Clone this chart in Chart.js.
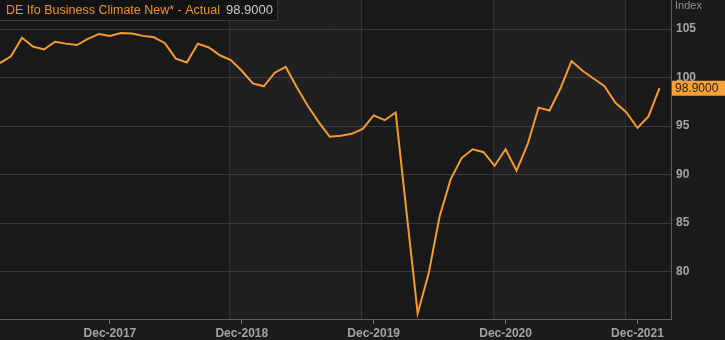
<!DOCTYPE html>
<html lang="en">
<head>
  <meta charset="UTF-8" />
  <title>DE Ifo Business Climate</title>
  <style>
    * { margin: 0; padding: 0; box-sizing: border-box; }
    body { background: #1b1b1b; }
    .wrap { position: relative; width: 725px; height: 340px; }
  </style>
</head>
<body>
  <div class="wrap"><canvas id="chartCanvas"></canvas></div>

  <script src="https://cdn.jsdelivr.net/npm/chart.js"></script>
  <script>
    // monthly readings, Feb-2017 .. Feb-2022
    const months = [
      'Feb-2017','Mar-2017','Apr-2017','May-2017','Jun-2017','Jul-2017','Aug-2017','Sep-2017','Oct-2017','Nov-2017','Dec-2017',
      'Jan-2018','Feb-2018','Mar-2018','Apr-2018','May-2018','Jun-2018','Jul-2018','Aug-2018','Sep-2018','Oct-2018','Nov-2018','Dec-2018',
      'Jan-2019','Feb-2019','Mar-2019','Apr-2019','May-2019','Jun-2019','Jul-2019','Aug-2019','Sep-2019','Oct-2019','Nov-2019','Dec-2019',
      'Jan-2020','Feb-2020','Mar-2020','Apr-2020','May-2020','Jun-2020','Jul-2020','Aug-2020','Sep-2020','Oct-2020','Nov-2020','Dec-2020',
      'Jan-2021','Feb-2021','Mar-2021','Apr-2021','May-2021','Jun-2021','Jul-2021','Aug-2021','Sep-2021','Oct-2021','Nov-2021','Dec-2021',
      'Jan-2022','Feb-2022'
    ];
    const ifoValues = [
      101.5, 102.2, 104.1, 103.2, 102.9, 103.7, 103.5, 103.35, 104.0, 104.5, 104.3,
      104.6, 104.55, 104.3, 104.15, 103.55, 101.95, 101.55, 103.5, 103.1, 102.3, 101.8, 100.7,
      99.4, 99.1, 100.5, 101.1, 99.0, 97.1, 95.4, 93.9, 94.0, 94.2, 94.7, 96.1,
      95.6, 96.4, 86.0, 75.7, 79.8, 85.7, 89.5, 91.7, 92.6, 92.3, 90.9, 92.6,
      90.4, 93.1, 96.9, 96.6, 98.9, 101.7, 100.7, 99.9, 99.1, 97.4, 96.4, 94.8,
      96.0, 98.9
    ];
    const xTickLabels = ['Dec-2017', 'Dec-2018', 'Dec-2019', 'Dec-2020', 'Dec-2021'];
    const yTickValues = [80, 85, 90, 95, 100, 105];
    // year shading edges, in month index units
    const bandEdges = [20.88, 32.88, 44.88, 56.88];

    const seriesTitle = 'DE Ifo Business Climate New* - Actual';
    const lastValueText = '98.9000';
    const FONT = "'Liberation Sans', Arial, sans-serif";

    const points = ifoValues.map((v, i) => ({ x: i, y: v }));

    const bandsPlugin = {
      id: 'bands',
      beforeDraw(chart) {
        const { ctx, chartArea: a, scales: { x } } = chart;
        ctx.save();
        ctx.fillStyle = '#1b1b1b';
        ctx.fillRect(0, 0, chart.width, chart.height);
        ctx.fillStyle = '#19191a';
        ctx.fillRect(a.left, a.top, a.right - a.left, a.bottom - a.top);
        const edges = [x.min].concat(bandEdges, [x.max]);
        for (let k = 0; k < edges.length - 1; k++) {
          if (k % 2 === 1) {
            const x0 = x.getPixelForValue(edges[k]);
            const x1 = x.getPixelForValue(edges[k + 1]);
            ctx.fillStyle = '#201f22';
            ctx.fillRect(x0, a.top, x1 - x0, a.bottom - a.top);
          }
        }
        ctx.strokeStyle = '#333333';
        ctx.lineWidth = 1;
        bandEdges.forEach(e => {
          const px = Math.round(x.getPixelForValue(e)) + 0.5;
          ctx.beginPath();
          ctx.moveTo(px, a.top);
          ctx.lineTo(px, a.bottom);
          ctx.stroke();
        });
        ctx.restore();
      }
    };

    const overlayPlugin = {
      id: 'overlay',
      afterDraw(chart) {
        const { ctx, chartArea: a, scales: { y } } = chart;
        ctx.save();
        // header box
        ctx.font = '12.5px ' + FONT;
        const tw = ctx.measureText(seriesTitle).width;
        ctx.font = '13px ' + FONT;
        const vw = ctx.measureText(lastValueText).width;
        const boxW = 6 + tw + 6 + vw + 4;
        ctx.fillStyle = '#131313';
        ctx.fillRect(0, 0, boxW, 20);
        ctx.strokeStyle = '#3a3a3a';
        ctx.beginPath();
        ctx.moveTo(0, 20.5);
        ctx.lineTo(boxW + 0.5, 20.5);
        ctx.lineTo(boxW + 0.5, 0);
        ctx.stroke();
        ctx.textBaseline = 'middle';
        ctx.textAlign = 'left';
        ctx.font = '12.5px ' + FONT;
        ctx.fillStyle = '#f0902e';
        ctx.fillText(seriesTitle, 6, 10.5);
        ctx.font = '13px ' + FONT;
        ctx.fillStyle = '#c9ccd3';
        ctx.fillText(lastValueText, 6 + tw + 6, 10.5);

        // axis unit
        ctx.font = '11px ' + FONT;
        ctx.fillStyle = '#8f8f8f';
        ctx.fillText('Index', a.right + 4, 6);

        // last value marker
        const lastY = y.getPixelForValue(ifoValues[ifoValues.length - 1]);
        ctx.fillStyle = '#f7a239';
        ctx.fillRect(a.right + 1, lastY - 7.5, chart.width - a.right - 1, 15);
        ctx.fillStyle = '#2a2218';
        ctx.font = '12px ' + FONT;
        ctx.fillText(lastValueText, a.right + 4, lastY + 0.5);
        ctx.restore();
      }
    };

    const ctx = document.getElementById('chartCanvas').getContext('2d');
    const chart = new Chart(ctx, {
      type: 'line',
      data: {
        datasets: [{
          label: seriesTitle,
          data: points,
          borderColor: '#f39a33',
          borderWidth: 2,
          pointRadius: 0,
          tension: 0,
          fill: false
        }]
      },
      options: {
        responsive: true,
        maintainAspectRatio: false,
        animation: false,
        layout: { padding: 0 },
        plugins: { legend: { display: false }, tooltip: { enabled: false } },
        scales: {
          x: {
            type: 'linear',
            min: 0,
            max: 61.05,
            grid: { drawOnChartArea: false, color: '#7a7a7a', tickLength: 5 },
            border: { color: '#5e5e5e' },
            ticks: {
              color: '#a3a3a3',
              font: { family: FONT, size: 12, weight: 'bold' },
              padding: 2,
              maxRotation: 0,
              autoSkip: false,
              callback: (v) => months[v]
            },
            afterBuildTicks: (s) => {
              s.ticks = xTickLabels.map(l => ({ value: months.indexOf(l) }));
            },
            afterFit: (s) => {
              s.height = 21;
              s.paddingLeft = 0; s.paddingRight = 0;
              s.paddingTop = 0; s.paddingBottom = 0;
            }
          },
          y: {
            position: 'right',
            min: 75.1,
            max: 108.0,
            grid: { color: '#3b3b3b', drawTicks: false },
            border: { color: '#5e5e5e' },
            ticks: {
              color: '#a5a5a5',
              font: { family: FONT, size: 12, weight: 'bold' },
              padding: 5
            },
            afterBuildTicks: (s) => {
              s.ticks = yTickValues.map(v => ({ value: v }));
            },
            afterFit: (s) => {
              s.width = 54;
              s.paddingLeft = 0; s.paddingRight = 0;
              s.paddingTop = 0; s.paddingBottom = 0;
            }
          }
        }
      },
      plugins: [bandsPlugin, overlayPlugin]
    });
  </script>
</body>
</html>
